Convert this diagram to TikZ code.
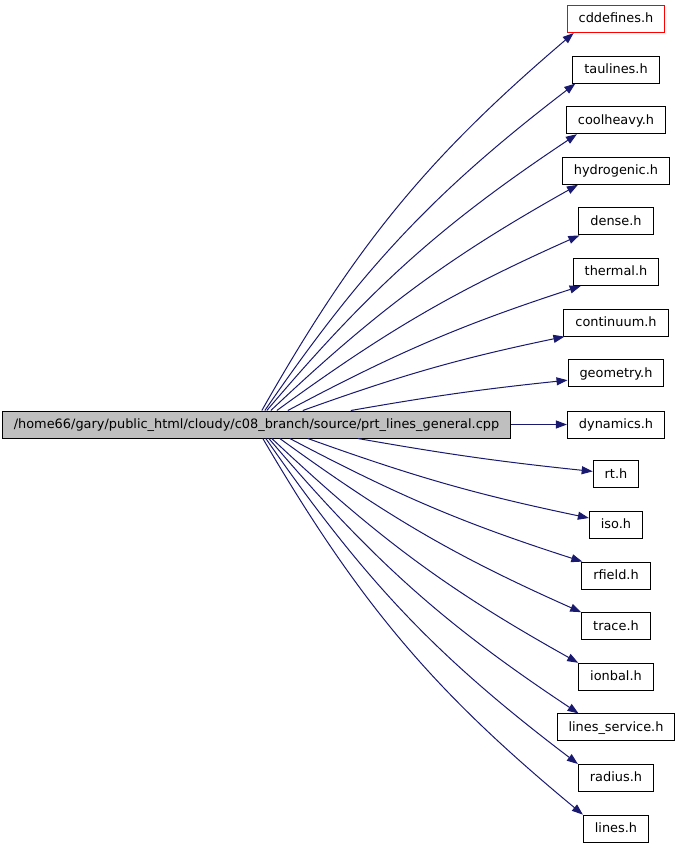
\documentclass[tikz,border=0pt]{standalone}
\usepackage{fontspec}
\setmainfont{DejaVu Sans}
\usetikzlibrary{arrows.meta}
\definecolor{edgeblue}{HTML}{191970}
\definecolor{maingray}{HTML}{BFBFBF}
\begin{document}
\begin{tikzpicture}[x=1pt,y=1pt,
  box/.style={draw=black, line width=1pt, minimum height=27pt, inner xsep=11.5pt, inner ysep=0pt,
    font=\fontsize{12.9}{15}\selectfont, text height=9.3pt, text depth=1.6pt},
  dep/.style={draw=edgeblue, line width=1pt, -{Triangle[length=11pt,width=8pt]}}]
\useasboundingbox (0,0) rectangle (680,-848);
\node[box, fill=maingray, minimum width=505pt] (main) at (256.5,-424.5) {/home66/gary/public\_html/cloudy/c08\_branch/source/prt\_lines\_general.cpp};
\node[box, draw=red] (cdd) at (616,-19) {cddefines.h};
\node[box] (tau) at (616,-69.6) {taulines.h};
\node[box] (cool) at (616,-120.2) {coolheavy.h};
\node[box] (hydro) at (616,-170.8) {hydrogenic.h};
\node[box] (dense) at (616,-221.4) {dense.h};
\node[box] (thermal) at (616,-272) {thermal.h};
\node[box] (cont) at (616,-322.6) {continuum.h};
\node[box] (geom) at (616,-373.2) {geometry.h};
\node[box] (dyn) at (616,-424.5) {dynamics.h};
\node[box] (rt) at (616,-474.4) {rt.h};
\node[box] (iso) at (616,-525) {iso.h};
\node[box] (rfield) at (616,-575.6) {rfield.h};
\node[box] (trace) at (616,-626.2) {trace.h};
\node[box] (ionbal) at (616,-676.8) {ionbal.h};
\node[box] (ls) at (616,-727.4) {lines\_service.h};
\node[box] (radius) at (616,-778) {radius.h};
\node[box] (lines) at (616,-828.6) {lines.h};
% upper edges
\draw[dep] ([xshift=260pt]main.north west) to[bend left=10] ([xshift=7pt]cdd.south west);
\draw[dep] ([xshift=263pt]main.north west) to[bend left=9] ([xshift=3pt]tau.south west);
\draw[dep] ([xshift=265pt]main.north west) to[bend left=8] ([xshift=11pt]cool.south west);
\draw[dep] ([xshift=269pt]main.north west) to[bend left=7] ([xshift=16pt]hydro.south west);
\draw[dep] ([xshift=275pt]main.north west) to[bend left=6] ([xshift=1pt]dense.south west);
\draw[dep] ([xshift=286pt]main.north west) to[bend left=5] ([xshift=8pt]thermal.south west);
\draw[dep] ([xshift=301pt]main.north west) to[bend left=4] ([xshift=1pt]cont.south west);
\draw[dep] ([xshift=349pt]main.north west) to[bend left=2] ([yshift=-7pt]geom.west);
\draw[dep] (main.east) -- (dyn.west);
% lower edges
\draw[dep] ([xshift=356pt]main.south west) to[bend right=2] ([yshift=3pt]rt.west);
\draw[dep] ([xshift=306pt]main.south west) to[bend right=4] ([yshift=7pt]iso.west);
\draw[dep] ([xshift=288pt]main.south west) to[bend right=5] ([xshift=1pt]rfield.north west);
\draw[dep] ([xshift=278pt]main.south west) to[bend right=6] (trace.north west);
\draw[dep] ([xshift=270pt]main.south west) to[bend right=7] (ionbal.north west);
\draw[dep] ([xshift=267pt]main.south west) to[bend right=8] ([xshift=22pt]ls.north west);
\draw[dep] ([xshift=264pt]main.south west) to[bend right=9] (radius.north west);
\draw[dep] ([xshift=261pt]main.south west) to[bend right=10] (lines.north west);
\end{tikzpicture}
\end{document}
